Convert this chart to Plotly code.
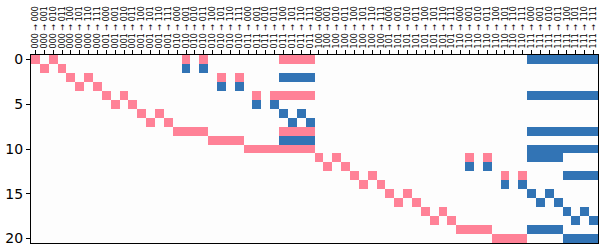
import plotly.graph_objects as go

# Column labels: transitions "abc → def" for all 3-bit states
states = ["000", "001", "010", "011", "100", "101", "110", "111"]
col_labels = [f"{a} → {b}" for a in states for b in states]
row_labels = list(range(21))

# Matrix rows: '+' = pink (+1), '-' = blue (-1), '.' = 0
rows = [
    "+.+..............+.+........++++........................--------",
    ".+.+.............-.-............................................",
    "....+.+..............+.+....----................................",
    ".....+.+.............-.-........................................",
    "........+.+..............+.+++++........................--------",
    ".........+.+.............-.-....................................",
    "............+.+.............-.-.................................",
    ".............+.+.............-.-................................",
    "................++++........++++........................--------",
    "....................++++....----................................",
    "........................++++++++........................--------",
    "................................+.+..............+.+....----....",
    ".................................+.+.............-.-............",
    "....................................+.+..............+.+....----",
    ".....................................+.+.............-.-........",
    "........................................+.+.............-.-.....",
    ".........................................+.+.............-.-....",
    "............................................+.+.............-.-.",
    ".............................................+.+.............-.-",
    "................................................++++....----....",
    "....................................................++++....----",
]
value_map = {"+": 1, "-": -1, ".": 0}
z = [[value_map[c] for c in r] for r in rows]

PINK = "#ff8297"
BLUE = "#3274b5"
ZERO = "#fdfdfd"

fig = go.Figure(
    go.Heatmap(
        z=z,
        x=list(range(len(col_labels))),
        y=row_labels,
        zmin=-1,
        zmax=1,
        colorscale=[
            [0.0, BLUE], [0.3333, BLUE],
            [0.3333, ZERO], [0.6667, ZERO],
            [0.6667, PINK], [1.0, PINK],
        ],
        showscale=False,
        xgap=0,
        ygap=0,
        hoverinfo="skip",
    )
)

fig.update_layout(
    width=600,
    height=248,
    margin=dict(l=31, r=2, t=55, b=5),
    paper_bgcolor="white",
    plot_bgcolor="white",
    font=dict(family="DejaVu Sans", color="black"),
    showlegend=False,
)

fig.update_xaxes(
    side="top",
    range=[-0.5, len(col_labels) - 0.5],
    tickmode="array",
    tickvals=list(range(len(col_labels))),
    ticktext=col_labels,
    tickangle=-90,
    tickfont=dict(size=8, family="DejaVu Sans", color="black"),
    ticks="outside",
    ticklen=4,
    tickwidth=1,
    tickcolor="black",
    showline=True,
    linecolor="black",
    linewidth=1,
    mirror=True,
    showgrid=False,
    zeroline=False,
    automargin=False,
)

fig.update_yaxes(
    range=[20.5, -0.5],
    tickmode="array",
    tickvals=[0, 5, 10, 15, 20],
    ticktext=["0", "5", "10", "15", "20"],
    tickfont=dict(size=14, family="DejaVu Sans", color="black"),
    ticks="outside",
    ticklen=4,
    tickwidth=1,
    tickcolor="black",
    showline=True,
    linecolor="black",
    linewidth=1,
    mirror=True,
    showgrid=False,
    zeroline=False,
    automargin=False,
)

fig.write_html(
    "out.html",
    config={"displayModeBar": False},
    post_script="document.body.style.margin='0';document.body.style.padding='0';",
)
